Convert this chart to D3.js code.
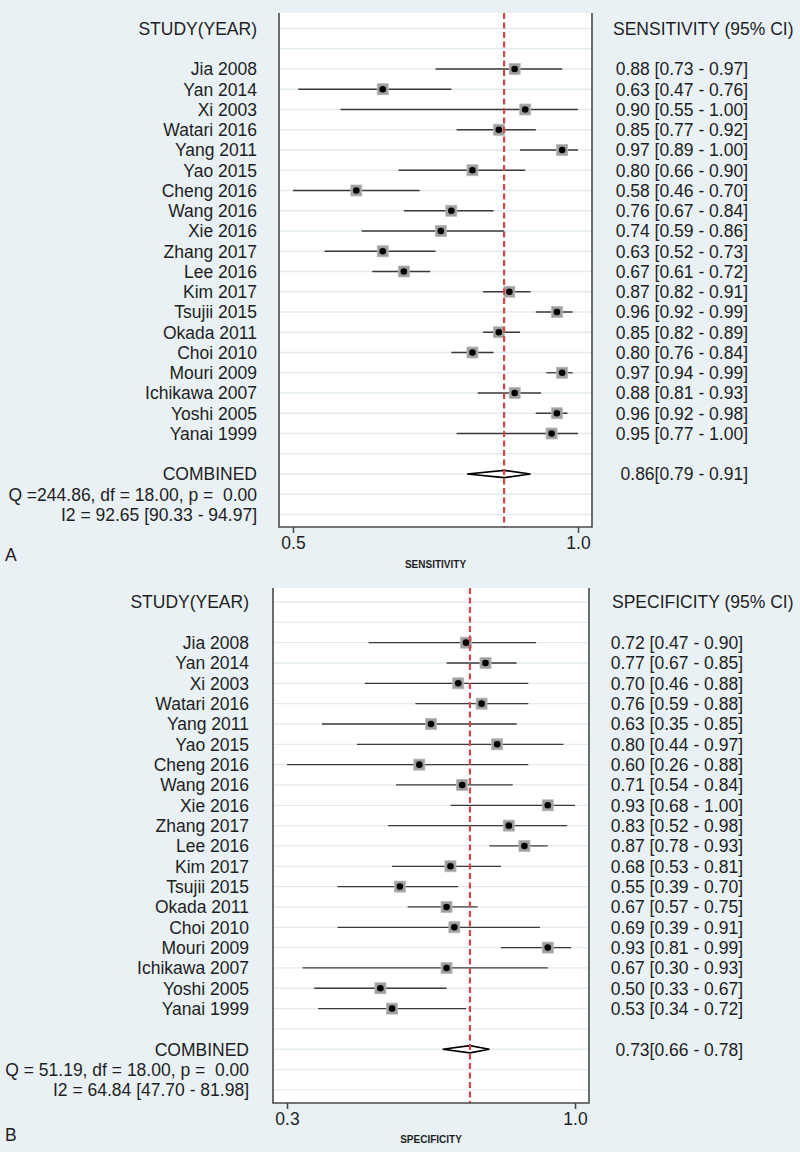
<!DOCTYPE html>
<html><head><meta charset="utf-8">
<script src="https://cdn.jsdelivr.net/npm/d3@7"></script>
<style>
html,body{margin:0;padding:0;background:#e9f1f5;}
svg{display:block;}
text{font-family:"Liberation Sans",Arial,sans-serif;fill:#1e1e1e;white-space:pre;}
</style></head>
<body>
<svg id="chart" width="800" height="1152"></svg>
<script>
// ---------- data ----------
const studies = ["Jia 2008","Yan 2014","Xi 2003","Watari 2016","Yang 2011","Yao 2015","Cheng 2016","Wang 2016","Xie 2016","Zhang 2017","Lee 2016","Kim 2017","Tsujii 2015","Okada 2011","Choi 2010","Mouri 2009","Ichikawa 2007","Yoshi 2005","Yanai 1999"];

const sens   = [0.88,0.63,0.90,0.85,0.97,0.80,0.58,0.76,0.74,0.63,0.67,0.87,0.96,0.85,0.80,0.97,0.88,0.96,0.95];
const sensLo = [0.73,0.47,0.55,0.77,0.89,0.66,0.46,0.67,0.59,0.52,0.61,0.82,0.92,0.82,0.76,0.94,0.81,0.92,0.77];
const sensHi = [0.97,0.76,1.00,0.92,1.00,0.90,0.70,0.84,0.86,0.73,0.72,0.91,0.99,0.89,0.84,0.99,0.93,0.98,1.00];

const spec   = [0.72,0.77,0.70,0.76,0.63,0.80,0.60,0.71,0.93,0.83,0.87,0.68,0.55,0.67,0.69,0.93,0.67,0.50,0.53];
const specLo = [0.47,0.67,0.46,0.59,0.35,0.44,0.26,0.54,0.68,0.52,0.78,0.53,0.39,0.57,0.39,0.81,0.30,0.33,0.34];
const specHi = [0.90,0.85,0.88,0.88,0.85,0.97,0.88,0.84,1.00,0.98,0.93,0.81,0.70,0.75,0.91,0.99,0.93,0.67,0.72];

const sensCombined = [0.86,0.79,0.91];
const specCombined = [0.73,0.66,0.78];

const sensTickValues = [0.46,1.0];
const sensTickLabels = ["0.5","1.0"];
const specTickValues = [0.26,1.0];
const specTickLabels = ["0.3","1.0"];

const sensStats = ["Q =244.86, df = 18.00, p =  0.00","I2 = 92.65 [90.33 - 94.97]"];
const specStats = ["Q = 51.19, df = 18.00, p =  0.00","I2 = 64.84 [47.70 - 81.98]"];

// ---------- drawing ----------
const svg = d3.select("#chart");
const f2 = d3.format(".2f");
const FS = 17.5;

function panel(cfg){
  const g = svg.append("g");
  const x = d3.scaleLinear().domain([cfg.ticks[0], cfg.ticks[1]]).range([cfg.x0, cfg.x1]);
  const rowY = k => cfg.headerY + k*cfg.step;
  const nRows = 25;

  // plot area
  g.append("rect").attr("x",cfg.left).attr("y",cfg.top)
    .attr("width",cfg.right-cfg.left).attr("height",cfg.bottom-cfg.top).attr("fill","#ffffff");
  // gridlines
  g.selectAll("line.grid").data(d3.range(nRows)).join("line")
    .attr("x1",cfg.left).attr("x2",cfg.right)
    .attr("y1",k=>rowY(k)).attr("y2",k=>rowY(k))
    .attr("stroke","#e2ebf1").attr("stroke-width",1.3);

  // CI lines
  const idx = d3.range(studies.length);
  g.selectAll("line.ci").data(idx).join("line")
    .attr("x1",i=>x(cfg.lo[i])).attr("x2",i=>x(cfg.hi[i]))
    .attr("y1",i=>rowY(i+2)).attr("y2",i=>rowY(i+2))
    .attr("stroke","#3a3a3a").attr("stroke-width",1.3);
  // squares
  const sq = 11;
  g.selectAll("rect.sq").data(idx).join("rect")
    .attr("x",i=>x(cfg.est[i])-sq/2).attr("y",i=>rowY(i+2)-sq/2)
    .attr("width",sq).attr("height",sq)
    .attr("fill","#9e9e9e").attr("stroke","#b8b8b8").attr("stroke-width",0.8);
  g.selectAll("circle.pt").data(idx).join("circle")
    .attr("cx",i=>x(cfg.est[i])).attr("cy",i=>rowY(i+2)).attr("r",3.3).attr("fill","#000");

  // diamond
  const cy = rowY(22), c = cfg.comb;
  g.append("path")
    .attr("d",`M${x(c[1])},${cy}L${x(c[0])},${cy-3.6}L${x(c[2])},${cy}L${x(c[0])},${cy+3.6}Z`)
    .attr("fill","#fff").attr("stroke","#000").attr("stroke-width",1.7);

  // red dashed line
  g.append("line").attr("x1",x(c[0])).attr("x2",x(c[0]))
    .attr("y1",cfg.top).attr("y2",cfg.bottom)
    .attr("stroke","#d3464b").attr("stroke-width",2.2).attr("stroke-dasharray","6,3.5");

  // frame (left, right, bottom)
  g.append("path")
    .attr("d",`M${cfg.left},${cfg.top}V${cfg.bottom}H${cfg.right}V${cfg.top}`)
    .attr("fill","none").attr("stroke","#4a4a4a").attr("stroke-width",1.6);

  // axis
  const axis = d3.axisBottom(x).tickValues(cfg.ticks).tickFormat((d,i)=>cfg.tickLabels[i]).tickSize(6).tickPadding(4);
  const ag = g.append("g").attr("transform",`translate(0,${cfg.bottom})`).call(axis);
  ag.select(".domain").remove();
  ag.selectAll(".tick line").attr("stroke","#4a4a4a").attr("stroke-width",1.6);
  ag.selectAll(".tick text").attr("font-size",FS).attr("fill","#1e1e1e")
    .attr("font-family","Liberation Sans, Arial, sans-serif");

  g.append("text").attr("x",(cfg.left+cfg.right)/2).attr("y",cfg.titleY)
    .attr("text-anchor","middle").attr("dominant-baseline","middle")
    .attr("font-size",10).attr("font-weight","bold").text(cfg.title);

  // left labels
  const left = g.append("g").attr("font-size",FS).attr("text-anchor","end");
  left.append("text").attr("x",cfg.labelRight).attr("y",rowY(0)).attr("dy","0.36em").text("STUDY(YEAR)");
  left.selectAll("text.st").data(studies).join("text").attr("class","st")
    .attr("x",cfg.labelRight).attr("y",(d,i)=>rowY(i+2)).attr("dy","0.36em").text(d=>d);
  left.append("text").attr("x",cfg.labelRight).attr("y",rowY(22)).attr("dy","0.36em").text("COMBINED");
  left.append("text").attr("x",cfg.labelRight).attr("y",rowY(23)).attr("dy","0.36em").text(cfg.stats[0]);
  left.append("text").attr("x",cfg.labelRight).attr("y",rowY(24)).attr("dy","0.36em").text(cfg.stats[1]);

  // right values
  const right = g.append("g").attr("font-size",FS);
  right.append("text").attr("x",cfg.headerLeft).attr("y",rowY(0)).attr("dy","0.36em").text(cfg.header);
  right.selectAll("text.v").data(idx).join("text").attr("class","v")
    .attr("x",cfg.valueRight).attr("text-anchor","end")
    .attr("y",i=>rowY(i+2)).attr("dy","0.36em")
    .text(i=>`${f2(cfg.est[i])} [${f2(cfg.lo[i])} - ${f2(cfg.hi[i])}]`);
  right.append("text").attr("x",cfg.valueRight).attr("text-anchor","end")
    .attr("y",rowY(22)).attr("dy","0.36em")
    .text(`${f2(c[0])}[${f2(c[1])} - ${f2(c[2])}]`);

  // panel letter
  g.append("text").attr("x",5).attr("y",cfg.letterY).attr("dy","0.36em").attr("font-size",FS).text(cfg.letter);
}

panel({top:13,bottom:527,left:279,right:592,x0:293,x1:578,headerY:28.5,step:20.25,
  ticks:sensTickValues,tickLabels:sensTickLabels,est:sens,lo:sensLo,hi:sensHi,comb:sensCombined,
  stats:sensStats,labelRight:257,valueRight:748,headerLeft:613,header:"SENSITIVITY (95% CI)",
  title:"SENSITIVITY",titleY:565,letter:"A",letterY:555});

panel({top:588,bottom:1103,left:273,right:589,x0:287,x1:575,headerY:602,step:20.33,
  ticks:specTickValues,tickLabels:specTickLabels,est:spec,lo:specLo,hi:specHi,comb:specCombined,
  stats:specStats,labelRight:249,valueRight:743,headerLeft:612,header:"SPECIFICITY (95% CI)",
  title:"SPECIFICITY",titleY:1140,letter:"B",letterY:1135});
</script>
</body></html>
